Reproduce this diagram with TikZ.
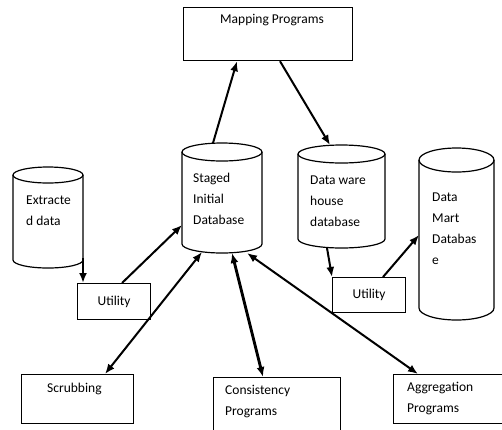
\documentclass[tikz,border=0pt]{standalone}
\usepackage{fontspec}
\setmainfont{Carlito}
\usetikzlibrary{arrows.meta}
\tikzset{
  box/.style={draw=black, line width=1.2pt, fill=white},
  cyl/.style={draw=black, line width=1.2pt, fill=white},
  lbl/.style={font=\fontsize{13.5}{21}\selectfont, anchor=north west, inner sep=0pt, align=left},
  conn/.style={draw=black, line width=2pt, -{Latex[length=10pt,width=8pt]}},
  both/.style={draw=black, line width=2pt, {Latex[length=10pt,width=8pt]}-{Latex[length=10pt,width=8pt]}},
}
\begin{document}
\begin{tikzpicture}[x=1pt,y=-1pt]
\useasboundingbox (0,0) rectangle (502,429);

% cylinders (y axis points down, so the arcs are flipped)
\path[cyl] (13,175) -- (13,260) arc[start angle=180,end angle=0,x radius=35,y radius=8]
  -- (83,175) arc[start angle=0,end angle=-180,x radius=35,y radius=8] -- cycle;
\draw[line width=1.2pt] (13,175) arc[start angle=180,end angle=0,x radius=35,y radius=8];

\path[cyl] (182,152) -- (182,244) arc[start angle=180,end angle=0,x radius=40,y radius=9]
  -- (262,152) arc[start angle=0,end angle=-180,x radius=40,y radius=9] -- cycle;
\draw[line width=1.2pt] (182,152) arc[start angle=180,end angle=0,x radius=40,y radius=9];

\path[cyl] (298,154) -- (298,239) arc[start angle=180,end angle=0,x radius=43.5,y radius=9]
  -- (385,154) arc[start angle=0,end angle=-180,x radius=43.5,y radius=9] -- cycle;
\draw[line width=1.2pt] (298,154) arc[start angle=180,end angle=0,x radius=43.5,y radius=9];

\path[cyl] (419,160) -- (419,308) arc[start angle=180,end angle=0,x radius=37.5,y radius=12]
  -- (494,160) arc[start angle=0,end angle=-180,x radius=37.5,y radius=12] -- cycle;
\draw[line width=1.2pt] (419,160) arc[start angle=180,end angle=0,x radius=37.5,y radius=12];

% cylinder labels
\node[lbl] (extracted) at (26,196) {Extracte\\d data};
\node[lbl] (staged) at (193,173) {Staged\\Initial\\Database};
\node[lbl] (dwh) at (310,176) {Data ware\\house\\database};
\node[lbl] (mart) at (432,193) {Data\\Mart\\Databas\\e};

% boxes
\node[box, minimum width=169pt, minimum height=53pt, anchor=north west, inner sep=0pt] (mapping) at (183,7) {};
\node[lbl] at (220,14) {Mapping Programs};

\node[box, minimum width=73pt, minimum height=36pt, anchor=north west, inner sep=0pt,
      font=\fontsize{13.5}{21}\selectfont] (util1) at (77,283) {Utility};
\node[box, minimum width=73pt, minimum height=35pt, anchor=north west, inner sep=0pt,
      font=\fontsize{13.5}{21}\selectfont] (util2) at (332,277) {Utility};

\node[box, minimum width=112pt, minimum height=49pt, anchor=north west, inner sep=0pt] (scrub) at (21,374) {};
\node[lbl] at (47,383) {Scrubbing};

\node[box, minimum width=127pt, minimum height=60pt, anchor=north west, inner sep=0pt] (consist) at (213,377) {};
\node[lbl] at (225,385) {Consistency\\Programs};

\node[box, minimum width=120pt, minimum height=49pt, anchor=north west, inner sep=0pt] (aggr) at (393,374) {};
\node[lbl] at (407,382) {Aggregation\\Programs};

% connector end points on the cylinders
\coordinate (stTop) at (213,143);
\coordinate (stLeft) at (182,225);
\coordinate (stB1) at (202,252);
\coordinate (stB2) at (232,253);
\coordinate (stB3) at (247,253);
\coordinate (dwTop) at (330,145);
\coordinate (dwBot) at (327,248);
\coordinate (exBot) at (83,258);
\coordinate (mtLeft) at (419,235);

% connectors
\draw[conn] (stTop) -- (mapping.south west -| 237,0);
\draw[conn] (mapping.south west -| 280,0) -- (dwTop);
\draw[conn] (exBot) -- (util1.north west -| exBot);
\draw[conn] (util1.north west -| 122,0) -- (stLeft);
\draw[both] (stB1) -- (scrub.north west -| 105,0);
\draw[both, line width=2.8pt] (stB2) -- (consist.north west -| 263,0);
\draw[both] (stB3) -- (aggr.north west -| 418,0);
\draw[conn] (dwBot) -- (util2.north west);
\draw[conn] (util2.north west -| 383,0) -- (mtLeft);
\end{tikzpicture}
\end{document}
